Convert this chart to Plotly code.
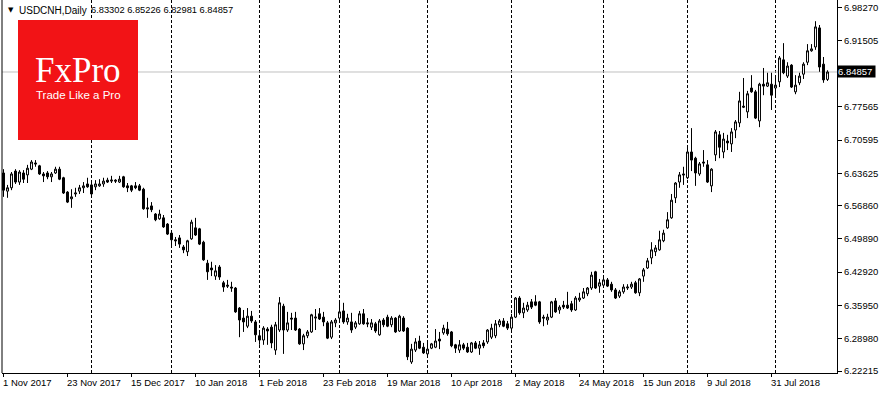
import plotly.graph_objects as go

symbol = "USDCNH,Daily"

opens = [
    6.637, 6.599, 6.606, 6.641, 6.618, 6.637, 6.633, 6.645, 6.658, 6.652,
    6.635, 6.637, 6.629, 6.637, 6.645, 6.627, 6.597, 6.583, 6.593, 6.599,
    6.606, 6.614, 6.612, 6.608, 6.610, 6.614, 6.622, 6.620, 6.622, 6.618,
    6.629, 6.610, 6.610, 6.610, 6.610, 6.603, 6.564, 6.568, 6.551, 6.541,
    6.543, 6.530, 6.511, 6.497, 6.501, 6.482, 6.472, 6.499, 6.522, 6.520,
    6.492, 6.448, 6.438, 6.421, 6.440, 6.407, 6.402, 6.398, 6.396, 6.354,
    6.333, 6.316, 6.337, 6.325, 6.296, 6.287, 6.310, 6.314, 6.266, 6.308,
    6.358, 6.308, 6.333, 6.333, 6.310, 6.279, 6.296, 6.304, 6.333, 6.342,
    6.335, 6.323, 6.293, 6.323, 6.333, 6.348, 6.325, 6.325, 6.314, 6.321,
    6.342, 6.323, 6.314, 6.321, 6.298, 6.329, 6.335, 6.319, 6.333, 6.306,
    6.333, 6.312, 6.241, 6.266, 6.285, 6.272, 6.258, 6.270, 6.272, 6.289,
    6.302, 6.310, 6.304, 6.277, 6.266, 6.277, 6.272, 6.262, 6.281, 6.270,
    6.281, 6.283, 6.293, 6.296, 6.319, 6.327, 6.321, 6.312, 6.335, 6.375,
    6.344, 6.350, 6.367, 6.367, 6.367, 6.335, 6.329, 6.335, 6.369, 6.350,
    6.360, 6.360, 6.363, 6.350, 6.371, 6.375, 6.384, 6.396, 6.430, 6.400,
    6.402, 6.413, 6.404, 6.392, 6.379, 6.388, 6.396, 6.398, 6.407, 6.386,
    6.421, 6.438, 6.459, 6.472, 6.476, 6.495, 6.522, 6.543, 6.585, 6.618,
    6.635, 6.627, 6.681, 6.668, 6.635, 6.660, 6.654, 6.610, 6.675, 6.717,
    6.681, 6.704, 6.698, 6.727, 6.742, 6.777, 6.765, 6.815, 6.807, 6.746,
    6.823, 6.819, 6.823, 6.815, 6.828, 6.874, 6.840, 6.863, 6.807, 6.826,
    6.844, 6.869, 6.893, 6.901, 6.941, 6.865, 6.83302,
]

highs = [
    6.645, 6.612, 6.639, 6.645, 6.643, 6.643, 6.654, 6.664, 6.664, 6.654,
    6.639, 6.641, 6.639, 6.650, 6.650, 6.629, 6.599, 6.603, 6.606, 6.612,
    6.618, 6.627, 6.618, 6.622, 6.624, 6.627, 6.627, 6.631, 6.624, 6.631,
    6.631, 6.616, 6.612, 6.618, 6.614, 6.606, 6.585, 6.576, 6.553, 6.560,
    6.549, 6.532, 6.516, 6.503, 6.507, 6.486, 6.497, 6.539, 6.543, 6.522,
    6.495, 6.455, 6.451, 6.444, 6.444, 6.411, 6.413, 6.409, 6.398, 6.356,
    6.350, 6.354, 6.348, 6.329, 6.308, 6.316, 6.314, 6.319, 6.325, 6.377,
    6.363, 6.346, 6.344, 6.346, 6.312, 6.300, 6.308, 6.342, 6.352, 6.354,
    6.346, 6.327, 6.329, 6.333, 6.365, 6.365, 6.342, 6.344, 6.327, 6.348,
    6.352, 6.333, 6.331, 6.325, 6.331, 6.333, 6.340, 6.337, 6.335, 6.340,
    6.337, 6.314, 6.279, 6.291, 6.296, 6.281, 6.281, 6.281, 6.310, 6.304,
    6.319, 6.325, 6.306, 6.279, 6.287, 6.281, 6.281, 6.283, 6.285, 6.285,
    6.287, 6.310, 6.321, 6.329, 6.331, 6.333, 6.327, 6.342, 6.377, 6.379,
    6.365, 6.367, 6.373, 6.381, 6.369, 6.340, 6.342, 6.369, 6.375, 6.360,
    6.369, 6.388, 6.369, 6.379, 6.386, 6.396, 6.398, 6.430, 6.432, 6.415,
    6.417, 6.417, 6.409, 6.396, 6.392, 6.404, 6.404, 6.409, 6.411, 6.417,
    6.438, 6.459, 6.492, 6.486, 6.516, 6.518, 6.555, 6.593, 6.618, 6.639,
    6.650, 6.691, 6.731, 6.671, 6.660, 6.685, 6.664, 6.647, 6.727, 6.725,
    6.721, 6.717, 6.731, 6.748, 6.807, 6.836, 6.809, 6.842, 6.811, 6.826,
    6.857, 6.847, 6.847, 6.836, 6.882, 6.909, 6.869, 6.865, 6.842, 6.847,
    6.869, 6.907, 6.907, 6.955, 6.947, 6.880, 6.85226,
]

lows = [
    6.587, 6.585, 6.601, 6.614, 6.612, 6.616, 6.616, 6.643, 6.650, 6.633,
    6.618, 6.624, 6.618, 6.635, 6.622, 6.593, 6.574, 6.564, 6.587, 6.593,
    6.595, 6.606, 6.591, 6.601, 6.608, 6.608, 6.616, 6.616, 6.616, 6.616,
    6.606, 6.597, 6.597, 6.603, 6.599, 6.560, 6.543, 6.555, 6.536, 6.539,
    6.522, 6.507, 6.486, 6.484, 6.480, 6.469, 6.463, 6.497, 6.505, 6.486,
    6.453, 6.413, 6.421, 6.413, 6.413, 6.388, 6.396, 6.388, 6.344, 6.293,
    6.304, 6.312, 6.323, 6.283, 6.277, 6.277, 6.277, 6.270, 6.256, 6.304,
    6.258, 6.304, 6.308, 6.306, 6.277, 6.266, 6.291, 6.302, 6.308, 6.329,
    6.316, 6.289, 6.289, 6.314, 6.329, 6.321, 6.319, 6.302, 6.310, 6.319,
    6.319, 6.314, 6.308, 6.302, 6.296, 6.314, 6.314, 6.314, 6.302, 6.304,
    6.304, 6.245, 6.237, 6.262, 6.268, 6.258, 6.252, 6.268, 6.270, 6.268,
    6.298, 6.296, 6.272, 6.260, 6.260, 6.266, 6.260, 6.260, 6.268, 6.256,
    6.270, 6.279, 6.289, 6.291, 6.314, 6.314, 6.308, 6.308, 6.333, 6.340,
    6.333, 6.346, 6.352, 6.358, 6.321, 6.316, 6.319, 6.333, 6.344, 6.342,
    6.352, 6.352, 6.346, 6.348, 6.367, 6.373, 6.379, 6.392, 6.394, 6.386,
    6.398, 6.398, 6.388, 6.373, 6.375, 6.384, 6.392, 6.394, 6.384, 6.379,
    6.409, 6.436, 6.446, 6.463, 6.474, 6.492, 6.520, 6.541, 6.574, 6.606,
    6.612, 6.624, 6.641, 6.610, 6.631, 6.650, 6.616, 6.597, 6.662, 6.668,
    6.668, 6.685, 6.681, 6.710, 6.733, 6.773, 6.752, 6.805, 6.750, 6.733,
    6.800, 6.817, 6.769, 6.798, 6.817, 6.844, 6.836, 6.815, 6.802, 6.821,
    6.834, 6.863, 6.891, 6.895, 6.849, 6.826, 6.82981,
]

closes = [
    6.601, 6.606, 6.635, 6.618, 6.639, 6.624, 6.647, 6.660, 6.656, 6.635,
    6.631, 6.629, 6.635, 6.645, 6.624, 6.595, 6.576, 6.587, 6.595, 6.606,
    6.610, 6.608, 6.593, 6.614, 6.614, 6.620, 6.618, 6.622, 6.620, 6.624,
    6.608, 6.606, 6.601, 6.606, 6.601, 6.562, 6.562, 6.560, 6.539, 6.551,
    6.524, 6.509, 6.497, 6.495, 6.488, 6.476, 6.495, 6.534, 6.507, 6.488,
    6.455, 6.430, 6.434, 6.432, 6.419, 6.398, 6.400, 6.396, 6.346, 6.329,
    6.325, 6.337, 6.327, 6.298, 6.287, 6.312, 6.306, 6.281, 6.319, 6.365,
    6.308, 6.323, 6.331, 6.308, 6.279, 6.296, 6.304, 6.340, 6.335, 6.331,
    6.325, 6.291, 6.325, 6.329, 6.346, 6.325, 6.333, 6.308, 6.323, 6.342,
    6.321, 6.321, 6.323, 6.306, 6.327, 6.319, 6.316, 6.333, 6.304, 6.337,
    6.306, 6.252, 6.268, 6.283, 6.270, 6.260, 6.268, 6.279, 6.285, 6.285,
    6.312, 6.300, 6.275, 6.270, 6.277, 6.270, 6.262, 6.281, 6.270, 6.277,
    6.275, 6.308, 6.312, 6.321, 6.327, 6.316, 6.312, 6.335, 6.375, 6.344,
    6.354, 6.360, 6.356, 6.360, 6.325, 6.333, 6.335, 6.367, 6.346, 6.356,
    6.356, 6.354, 6.350, 6.375, 6.375, 6.388, 6.396, 6.423, 6.396, 6.407,
    6.413, 6.400, 6.392, 6.375, 6.388, 6.398, 6.398, 6.404, 6.386, 6.415,
    6.434, 6.453, 6.476, 6.480, 6.497, 6.511, 6.539, 6.580, 6.616, 6.633,
    6.633, 6.681, 6.664, 6.637, 6.656, 6.658, 6.618, 6.645, 6.723, 6.691,
    6.708, 6.700, 6.723, 6.744, 6.788, 6.775, 6.803, 6.807, 6.752, 6.823,
    6.819, 6.826, 6.800, 6.821, 6.878, 6.847, 6.861, 6.817, 6.821, 6.840,
    6.865, 6.893, 6.897, 6.943, 6.859, 6.832, 6.84857,
]

# bar index of each date label on the time scale
tick_bars = [0, 16, 32, 48, 64, 80, 96, 112, 128, 144, 160, 176, 192]
tick_labels = ["1 Nov 2017", "23 Nov 2017", "15 Dec 2017", "10 Jan 2018",
               "1 Feb 2018", "23 Feb 2018", "19 Mar 2018", "10 Apr 2018",
               "2 May 2018", "24 May 2018", "15 Jun 2018", "9 Jul 2018",
               "31 Jul 2018"]
# bar index of the first bar of each month (dashed separators)
month_start_bars = [22, 42, 64, 84, 106, 127, 150, 171, 193]
price_ticks = [6.98270, 6.91505, 6.77565, 6.70595, 6.63625, 6.56860,
               6.49890, 6.42920, 6.35950, 6.28980, 6.22215]

# ---------------- layout geometry ----------------
W, H = 880, 395
ML, MR, MT, MB = 2, 43, 0, 22
PW, PH = W - ML - MR, H - MT - MB
FONT = "Tahoma, 'Liberation Sans', Arial, sans-serif"


def px(xpix):
    return (xpix - ML) / PW


def py(ypix):
    return 1 - (ypix - MT) / PH


bars = list(range(len(opens)))

fig = go.Figure(go.Candlestick(
    x=bars, open=opens, high=highs, low=lows, close=closes,
    increasing=dict(fillcolor="white", line=dict(color="black", width=1)),
    decreasing=dict(fillcolor="black", line=dict(color="black", width=1)),
    whiskerwidth=0, hoverinfo="skip", showlegend=False,
))

shapes = []
for b in month_start_bars:
    shapes.append(dict(type="line", xref="x", yref="paper", x0=b, x1=b, y0=0, y1=1,
                       line=dict(color="black", width=1, dash="3px,2px"), layer="below"))
shapes.append(dict(type="line", xref="paper", yref="y", x0=0, x1=1,
                   y0=closes[-1], y1=closes[-1],
                   line=dict(color="#c0c0c0", width=1), layer="below"))
shapes.append(dict(type="line", xref="paper", yref="paper", x0=0, x1=0, y0=0, y1=1,
                   line=dict(color="black", width=1)))
# logo block
shapes.append(dict(type="rect", xref="paper", yref="paper",
                   x0=px(18), x1=px(138), y0=py(140), y1=py(20),
                   fillcolor="#f21316", line=dict(width=0), layer="above"))

annotations = []
for b, t in zip(tick_bars, tick_labels):
    annotations.append(dict(x=b, xref="x", y=0, yref="paper", text=t, showarrow=False,
                            xanchor="left", yanchor="top", xshift=-3, yshift=-2,
                            font=dict(family=FONT, size=9.5, color="black")))

annotations.append(dict(x=1, xref="paper", y=closes[-1], yref="y",
                        text=f"{closes[-1]:.5f} ", showarrow=False, xanchor="left",
                        xshift=0, bgcolor="black", borderpad=0,
                        font=dict(family=FONT, size=9.5, color="white")))

annotations.append(dict(x=px(6), xref="paper", y=py(10), yref="paper", text="▼",
                        showarrow=False, xanchor="left", yanchor="middle",
                        font=dict(family="DejaVu Sans", size=7, color="black")))
annotations.append(dict(x=px(17), xref="paper", y=py(10), yref="paper", text=symbol,
                        showarrow=False, xanchor="left", yanchor="middle",
                        font=dict(family=FONT, size=10, color="black")))
ohlc_text = f"{opens[-1]:.5f} {highs[-1]:.5f} {lows[-1]:.5f} {closes[-1]:.5f}"
annotations.append(dict(x=px(89), xref="paper", y=py(10), yref="paper", text=ohlc_text,
                        showarrow=False, xanchor="left", yanchor="middle",
                        font=dict(family=FONT, size=9.3, color="black")))

annotations.append(dict(x=px(78), xref="paper", y=py(70), yref="paper", text="FxPro",
                        showarrow=False, xanchor="center", yanchor="middle",
                        font=dict(family="'Liberation Serif', 'DejaVu Serif', serif",
                                  size=35, color="white")))
annotations.append(dict(x=px(78), xref="paper", y=py(95), yref="paper",
                        text="Trade Like a Pro", showarrow=False,
                        xanchor="center", yanchor="middle",
                        font=dict(family="'Liberation Sans', Arial, sans-serif",
                                  size=11.5, color="white")))

fig.update_layout(
    width=W, height=H,
    margin=dict(l=ML, r=MR, t=MT, b=MB, pad=0),
    paper_bgcolor="white", plot_bgcolor="white",
    shapes=shapes, annotations=annotations,
    showlegend=False,
    xaxis=dict(range=[-0.375, -0.375 + PW / 4.0], showgrid=False, zeroline=False,
               showline=True, linecolor="black", linewidth=1,
               ticks="outside", ticklen=3, tickcolor="black", tickwidth=1,
               tickvals=tick_bars, showticklabels=False,
               rangeslider=dict(visible=False), fixedrange=True),
    yaxis=dict(range=[6.21796, 6.9994], side="right", showgrid=False, zeroline=False,
               showline=True, linecolor="black", linewidth=1,
               ticks="outside", ticklen=4, tickcolor="black", tickwidth=1,
               tickvals=price_ticks, ticktext=[f"{v:.5f}" for v in price_ticks],
               tickfont=dict(family=FONT, size=9.5, color="black"), fixedrange=True),
)

fig.write_html("out.html", config={"displayModeBar": False})
